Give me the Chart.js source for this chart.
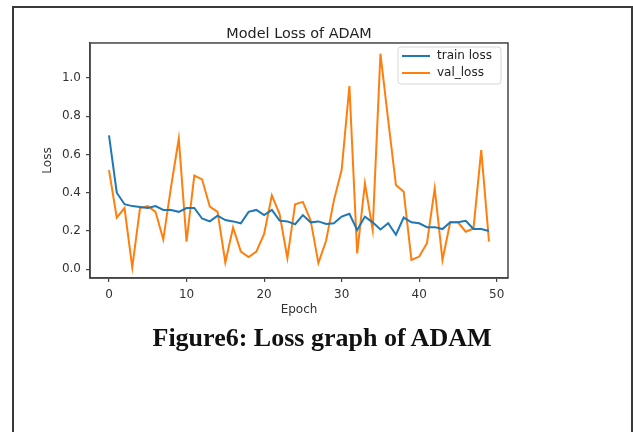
<!DOCTYPE html>
<html>
<head>
<meta charset="utf-8">
<script src="https://cdn.jsdelivr.net/npm/chart.js@4"></script>
<style>
  html, body { margin: 0; padding: 0; background: #fff; }
  body { width: 633px; height: 432px; position: relative; overflow: hidden; }
  #frame {
    position: absolute; left: 12px; top: 6px; width: 617px; height: 440px;
    border: 2px solid #3a3a3a; border-bottom: none;
  }
  #chart { position: absolute; left: 0; top: 0; }
  #caption {
    position: absolute; left: 0; top: 325px; width: 644px;
    text-align: center; font: bold 26px "Liberation Serif", serif;
    line-height: 26px; color: #111;
  }
</style>
</head>
<body>
<div id="frame"></div>
<canvas id="chart" width="633" height="432"></canvas>
<div id="caption">Figure6: Loss graph of ADAM</div>
<script>
// Dados
const epochs = [0, 1, 2, 3, 4, 5, 6, 7, 8, 9, 10, 11, 12, 13, 14, 15, 16, 17, 18, 19,
  20, 21, 22, 23, 24, 25, 26, 27, 28, 29, 30, 31, 32, 33, 34, 35, 36, 37, 38, 39,
  40, 41, 42, 43, 44, 45, 46, 47, 48, 49];

const trainLoss = [0.70, 0.40, 0.34, 0.33, 0.325, 0.32, 0.33, 0.31, 0.31, 0.30,
  0.32, 0.32, 0.265, 0.25, 0.28, 0.257, 0.25, 0.24, 0.30, 0.31,
  0.283, 0.31, 0.254, 0.25, 0.235, 0.283, 0.245, 0.25, 0.237, 0.24,
  0.275, 0.29, 0.205, 0.275, 0.245, 0.208, 0.24, 0.18, 0.27, 0.245,
  0.24, 0.22, 0.22, 0.21, 0.245, 0.245, 0.253, 0.21, 0.21, 0.20];

const valLoss = [0.518, 0.27, 0.32, 0.01, 0.32, 0.33, 0.30, 0.155, 0.43, 0.683,
  0.144, 0.49, 0.47, 0.327, 0.30, 0.035, 0.218, 0.092, 0.064, 0.092,
  0.184, 0.386, 0.288, 0.058, 0.34, 0.352, 0.255, 0.032, 0.15, 0.36,
  0.52, 0.958, 0.083, 0.449, 0.205, 1.127, 0.78, 0.44, 0.405, 0.048,
  0.066, 0.136, 0.423, 0.048, 0.245, 0.245, 0.196, 0.213, 0.623, 0.144];

const xTicks = [0, 10, 20, 30, 40, 50];
const yTicks = [0.0, 0.2, 0.4, 0.6, 0.8, 1.0];

const seriesLabels = ["train loss", "val_loss"];
const seriesColors = ["#1f77b4", "#ff7f0e"];

const FONT = "DejaVu Sans";

// Moldura dos eixos e legenda no estilo matplotlib
const boxAndLegend = {
  id: "boxAndLegend",
  afterDatasetsDraw(chart) {
    const { ctx, chartArea: a } = chart;
    ctx.save();
    ctx.strokeStyle = "#444";
    ctx.lineWidth = 1.5;
    ctx.strokeRect(a.left, a.top, a.right - a.left, a.bottom - a.top);

    // legenda
    const bx = 398, by = 47, bw = 103, bh = 37, r = 3;
    ctx.beginPath();
    ctx.moveTo(bx + r, by);
    ctx.arcTo(bx + bw, by, bx + bw, by + bh, r);
    ctx.arcTo(bx + bw, by + bh, bx, by + bh, r);
    ctx.arcTo(bx, by + bh, bx, by, r);
    ctx.arcTo(bx, by, bx + bw, by, r);
    ctx.closePath();
    ctx.fillStyle = "rgba(255,255,255,0.8)";
    ctx.fill();
    ctx.strokeStyle = "#d6d6d6";
    ctx.lineWidth = 1;
    ctx.stroke();

    ctx.font = "12px '" + FONT + "'";
    ctx.textBaseline = "middle";
    ctx.textAlign = "left";
    chart.data.datasets.forEach((ds, i) => {
      const y = 56 + i * 17;
      ctx.strokeStyle = ds.borderColor;
      ctx.lineWidth = 2;
      ctx.beginPath();
      ctx.moveTo(402, y);
      ctx.lineTo(430, y);
      ctx.stroke();
      ctx.fillStyle = "#222";
      ctx.fillText(ds.label, 437, y);
    });
    ctx.restore();
  },
};

const data = {
  datasets: [
    {
      label: seriesLabels[0],
      data: epochs.map((e, i) => ({ x: e, y: trainLoss[i] })),
      borderColor: seriesColors[0],
      borderWidth: 2,
      pointRadius: 0,
      fill: false,
    },
    {
      label: seriesLabels[1],
      data: epochs.map((e, i) => ({ x: e, y: valLoss[i] })),
      borderColor: seriesColors[1],
      borderWidth: 2,
      pointRadius: 0,
      fill: false,
    },
  ],
};

const config = {
  type: "line",
  data: data,
  plugins: [boxAndLegend],
  options: {
    responsive: false,
    animation: false,
    layout: { padding: { left: 20, right: 125, top: 15, bottom: 110 } },
    plugins: {
      legend: { display: false },
      tooltip: { enabled: false },
      title: {
        display: true,
        text: "Model Loss of ADAM",
        fullSize: false,
        color: "#222",
        font: { family: FONT, size: 14.4, weight: "normal" },
        padding: { top: 10.4, bottom: 0.3 },
      },
    },
    scales: {
      x: {
        type: "linear",
        min: -2.45,
        max: 51.45,
        afterFit: (s) => { s.height = 44; },
        afterBuildTicks: (s) => { s.ticks = xTicks.map((v) => ({ value: v })); },
        grid: { drawOnChartArea: false, drawTicks: true, tickLength: 4, color: "#444", lineWidth: 1.2 },
        border: { display: true, color: "#444", width: 1.5 },
        ticks: { color: "#333", padding: 6, maxRotation: 0, font: { family: FONT, size: 12 } },
        title: {
          display: true, text: "Epoch", color: "#333",
          font: { family: FONT, size: 12 }, padding: { top: 0, bottom: 5 },
        },
      },
      y: {
        min: -0.046,
        max: 1.183,
        afterFit: (s) => { s.width = 70; },
        afterBuildTicks: (s) => { s.ticks = yTicks.map((v) => ({ value: v })); },
        grid: { drawOnChartArea: false, drawTicks: true, tickLength: 4, color: "#444", lineWidth: 1.2 },
        border: { display: true, color: "#444", width: 1.5 },
        ticks: {
          color: "#333", padding: 5, font: { family: FONT, size: 12 },
          callback: (v) => Number(v).toFixed(1),
        },
        title: {
          display: true, text: "Loss", color: "#333",
          font: { family: FONT, size: 12 }, padding: { top: 21, bottom: 0 },
        },
      },
    },
  },
};

const ctx = document.getElementById("chart").getContext("2d");
new Chart(ctx, config);
</script>
</body>
</html>
